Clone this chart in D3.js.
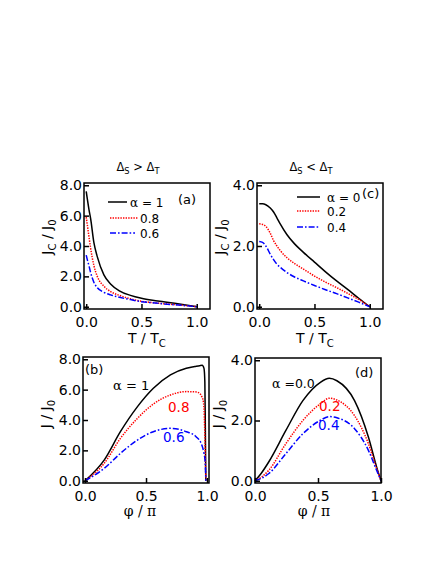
<!DOCTYPE html>
<html lang="en">
<head>
  <meta charset="UTF-8">
  <title>Jc vs T and J vs phase</title>
  <script src="https://d3js.org/d3.v7.min.js"></script>
  <style>
    body { margin: 0; background: #fff; }
    text { font-family: "DejaVu Sans", sans-serif; }
  </style>
</head>
<body>
<script>
// ---- data ----
// panel (a): Jc/J0 vs T/Tc, Delta_S > Delta_T
const tempA = [0, 0.01, 0.025, 0.04, 0.07, 0.1, 0.16, 0.22, 0.3, 0.4, 0.5, 0.6, 0.7, 0.8, 0.9, 1.0];
const jcA_10 = [7.6, 7.1, 6.4, 5.8, 4.2, 3.3, 2.1, 1.5, 1.05, 0.75, 0.56, 0.43, 0.33, 0.23, 0.12, 0];
const jcA_08 = [5.9, 5.4, 4.6, 3.85, 2.7, 2.0, 1.35, 1.0, 0.75, 0.52, 0.36, 0.27, 0.2, 0.14, 0.07, 0];
const jcA_06 = [3.4, 3.1, 2.7, 2.25, 1.6, 1.25, 0.95, 0.78, 0.62, 0.47, 0.33, 0.26, 0.19, 0.13, 0.07, 0];

// panel (c): Jc/J0 vs T/Tc, Delta_S < Delta_T
const tempC = [0, 0.03, 0.06, 0.1, 0.13, 0.16, 0.19, 0.25, 0.32, 0.4, 0.5, 0.6, 0.7, 0.8, 0.9, 1.0];
const jcC_00 = [3.39, 3.39, 3.36, 3.25, 3.12, 2.93, 2.73, 2.38, 2.07, 1.79, 1.47, 1.15, 0.85, 0.57, 0.28, 0];
const jcC_02 = [2.73, 2.71, 2.65, 2.42, 2.18, 2.0, 1.85, 1.62, 1.42, 1.24, 1.01, 0.81, 0.63, 0.44, 0.24, 0];
const jcC_04 = [2.15, 2.12, 2.0, 1.73, 1.55, 1.4, 1.3, 1.13, 0.98, 0.85, 0.7, 0.56, 0.43, 0.29, 0.15, 0];

// panel (b): J/J0 vs phi/pi
const phiB_10 = [0, 0.157, 0.29, 0.43, 0.56, 0.70, 0.83, 0.90, 0.94, 0.96, 0.975, 0.982, 0.986, 0.99];
const jB_10 = [0, 1.36, 3.23, 4.88, 6.09, 6.97, 7.41, 7.52, 7.58, 7.6, 7.4, 6.5, 3.5, 0];
const phiB_08 = [0, 0.157, 0.29, 0.43, 0.56, 0.70, 0.83, 0.91, 0.94, 0.957, 0.97, 0.978, 0.984, 0.99];
const jB_08 = [0, 1.14, 2.79, 4.11, 5.05, 5.65, 5.87, 5.85, 5.75, 5.54, 5.2, 4.2, 2.2, 0];
const phiB_06 = [0, 0.157, 0.29, 0.43, 0.56, 0.70, 0.83, 0.91, 0.957, 0.975, 0.984, 0.99];
const jB_06 = [0, 0.81, 1.8, 2.68, 3.23, 3.45, 3.23, 2.9, 2.35, 1.8, 1.3, 0];

// panel (d): J/J0 vs phi/pi
const phiD = [0, 0.05, 0.11, 0.245, 0.38, 0.516, 0.59, 0.65, 0.79, 0.9, 0.965, 1.0];
const jD_00 = [0, 0.25, 0.63, 1.67, 2.66, 3.26, 3.4, 3.32, 2.66, 1.45, 0.46, 0];
const jD_02 = [0, 0.12, 0.35, 1.23, 2.0, 2.55, 2.74, 2.68, 2.16, 1.23, 0.41, 0];
const jD_04 = [0, 0.08, 0.24, 0.9, 1.56, 2.0, 2.13, 2.09, 1.73, 1.01, 0.35, 0];

const ticksX = [0, 0.5, 1.0];
const ticksY8 = [0, 2, 4, 6, 8];
const ticksY4 = [0, 2, 4];

// line styles
const styles = {
  black: { color: "#000", dash: null },
  red:   { color: "#ff0000", dash: "1.4,1.2" },
  blue:  { color: "#0000ff", dash: "6,2,1.6,2" }
};

const svg = d3.select("body").append("svg")
  .attr("width", 436)
  .attr("height", 564);

function drawPanel(p) {
  const x = d3.scaleLinear().domain(p.xDom).range([p.left, p.right]);
  const y = d3.scaleLinear().domain(p.yDom).range([p.bottom, p.top]);
  const g = svg.append("g");

  const line = d3.line()
    .x(d => x(d[0]))
    .y(d => y(d[1]))
    .curve(d3.curveMonotoneX);

  p.series.forEach(s => {
    const st = styles[s.style];
    g.append("path")
      .datum(s.x.map((v, i) => [v, s.y[i]]))
      .attr("d", line)
      .attr("fill", "none")
      .attr("stroke", st.color)
      .attr("stroke-width", 1.5)
      .attr("stroke-dasharray", st.dash);
  });

  // axes, ticks pointing inward
  const ya = g.append("g")
    .attr("transform", `translate(${p.left},0)`)
    .call(d3.axisLeft(y).tickValues(p.yTicks).tickSize(-5).tickPadding(2).tickFormat(d3.format(".1f")));
  const xa = g.append("g")
    .attr("transform", `translate(0,${p.bottom})`)
    .call(d3.axisBottom(x).tickValues(ticksX).tickSize(-5).tickPadding(8).tickFormat(d3.format(".1f")));
  [ya, xa].forEach(a => {
    a.select(".domain").remove();
    a.selectAll("line").attr("stroke", "#000").attr("stroke-width", 1.5);
    a.selectAll("text")
      .attr("fill", "#000")
      .style("font-size", "14px")
      .style("font-family", "'DejaVu Sans', sans-serif");
  });

  g.append("rect")
    .attr("x", p.left)
    .attr("y", p.top)
    .attr("width", p.right - p.left)
    .attr("height", p.bottom - p.top)
    .attr("fill", "none")
    .attr("stroke", "#000")
    .attr("stroke-width", 1.5);
}

// text with subscripts: parts = [[text, isSub, family], ...]
function label(x, y, parts, opts) {
  opts = opts || {};
  const size = opts.size || 14;
  const t = svg.append("text")
    .attr("x", x)
    .attr("y", y)
    .attr("text-anchor", opts.anchor || "start")
    .attr("fill", opts.color || "#000")
    .style("font-size", size + "px");
  if (opts.family) t.style("font-family", opts.family);
  if (opts.rotate) t.attr("transform", `rotate(-90,${x},${y})`);
  parts.forEach((pt, i) => {
    const s = t.append("tspan").text(pt[0]);
    if (pt[1]) s.attr("dy", size * 0.25).style("font-size", (size * 0.72) + "px");
    else if (i > 0 && parts[i - 1][1]) s.attr("dy", -size * 0.25);
    if (pt[2]) s.style("font-family", pt[2]);
  });
  return t;
}

drawPanel({
  left: 84, right: 210, top: 183, bottom: 309,
  xDom: [-0.02, 1.12], yDom: [-0.15, 8.15], yTicks: ticksY8,
  series: [
    { x: tempA, y: jcA_10, style: "black" },
    { x: tempA, y: jcA_08, style: "red" },
    { x: tempA, y: jcA_06, style: "blue" }
  ]
});
drawPanel({
  left: 257, right: 383, top: 183, bottom: 309,
  xDom: [-0.02, 1.12], yDom: [-0.075, 4.075], yTicks: ticksY4,
  series: [
    { x: tempC, y: jcC_00, style: "black" },
    { x: tempC, y: jcC_02, style: "red" },
    { x: tempC, y: jcC_04, style: "blue" }
  ]
});
drawPanel({
  left: 83, right: 209, top: 357, bottom: 483,
  xDom: [-0.0164, 1.016], yDom: [-0.15, 8.15], yTicks: ticksY8,
  series: [
    { x: phiB_10, y: jB_10, style: "black" },
    { x: phiB_08, y: jB_08, style: "red" },
    { x: phiB_06, y: jB_06, style: "blue" }
  ]
});
drawPanel({
  left: 255, right: 381, top: 358, bottom: 483,
  xDom: [0, 1.0], yDom: [-0.075, 4.075], yTicks: ticksY4,
  series: [
    { x: phiD, y: jD_00, style: "black" },
    { x: phiD, y: jD_02, style: "red" },
    { x: phiD, y: jD_04, style: "blue" }
  ]
});

// titles
label(138, 171, [["Δ"], ["S", true], ["  > Δ"], ["T", true]], { anchor: "middle", size: 11.5 });
label(311, 171, [["Δ"], ["S", true], ["  < Δ"], ["T", true]], { anchor: "middle", size: 11.5 });

// axis titles
label(147, 343, [["T / T"], ["C", true]], { anchor: "middle" });
label(315, 343, [["T / T"], ["C", true]], { anchor: "middle" });
const serif = "'DejaVu Serif', serif";
label(140, 516, [["φ / π"]], { anchor: "middle", size: 14, family: serif });
label(314, 516, [["φ / π"]], { anchor: "middle", size: 14, family: serif });
label(52, 237, [["J"], ["C", true], [" / J"], ["0", true]], { anchor: "middle", rotate: true });
label(225, 237, [["J"], ["C", true], [" / J"], ["0", true]], { anchor: "middle", rotate: true });
label(51, 414, [["J / J"], ["0", true]], { anchor: "middle", rotate: true });
label(223, 414, [["J / J"], ["0", true]], { anchor: "middle", rotate: true });

// panel tags
label(178, 204, [["(a)"]], { size: 13 });
label(362, 198, [["(c)"]], { size: 13 });
label(85, 374, [["(b)"]], { size: 13 });
label(355, 377, [["(d)"]], { size: 13 });

// legends (a) and (c)
const legendA = [
  { y: 202, x1: 108, x2: 127, style: "black", tx: 130, parts: [["α", false, serif], [" = 1"]] },
  { y: 218, x1: 110, x2: 138, style: "red", tx: 140, parts: [["0.8"]] },
  { y: 233, x1: 110, x2: 135, style: "blue", tx: 140, parts: [["0.6"]] }
];
const legendC = [
  { y: 197, x1: 297, x2: 320, style: "black", tx: 327, parts: [["α", false, serif], [" = 0"]] },
  { y: 211, x1: 297, x2: 320, style: "red", tx: 327, parts: [["0.2"]] },
  { y: 227, x1: 297, x2: 320, style: "blue", tx: 327, parts: [["0.4"]] }
];
legendA.concat(legendC).forEach(d => {
  const st = styles[d.style];
  svg.append("line")
    .attr("x1", d.x1).attr("x2", d.x2)
    .attr("y1", d.y).attr("y2", d.y)
    .attr("stroke", st.color)
    .attr("stroke-width", 1.5)
    .attr("stroke-dasharray", st.dash);
  label(d.tx, d.y + 4.5, d.parts, { size: 12 });
});

// curve labels in (b) and (d)
label(113, 390, [["α", false, serif], [" = 1"]], { size: 13 });
label(168, 412, [["0.8"]], { size: 13.5, color: "#ff0000" });
label(163, 442, [["0.6"]], { size: 13.5, color: "#0000ff" });
label(272, 388, [["α", false, serif], [" =0.0"]], { size: 12.5 });
label(319, 411, [["0.2"]], { size: 13.5, color: "#ff0000" });
label(318, 430, [["0.4"]], { size: 13.5, color: "#0000ff" });
</script>
</body>
</html>
